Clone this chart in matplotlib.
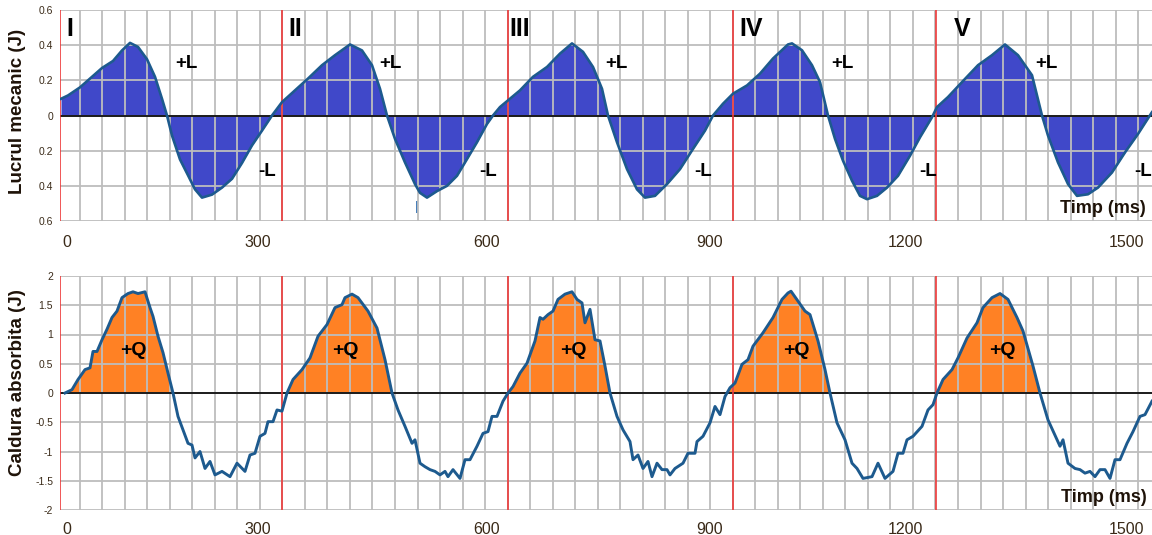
import matplotlib
matplotlib.use('Agg')
import matplotlib.pyplot as plt
import numpy as np
from matplotlib.ticker import FixedLocator

plt.rcParams['font.family'] = ['Liberation Sans', 'DejaVu Sans']

# ---------------- data (x = position along the sample axis) ----------------
work_x = [1, 8, 20, 32, 42, 53, 62, 70, 78, 87, 95, 102, 107, 112, 120, 128, 135, 142,
          152, 162, 172, 182, 192, 202, 212, 222, 235, 248, 262, 275, 290, 302, 312, 320,
          327, 335, 345, 355, 360, 367, 377, 387, 397, 407, 417, 427, 433, 440, 448, 460,
          473, 487, 500, 512, 523, 533, 542, 548, 557, 567, 577, 585, 595, 607, 620, 633,
          645, 653, 663, 673, 687, 700, 713, 728, 732, 742, 752, 760, 768, 775, 783, 792,
          800, 807, 817, 827, 838, 850, 860, 872, 877, 888, 902, 918, 932, 945, 958, 972,
          982, 988, 998, 1008, 1017, 1028, 1038, 1052, 1065, 1078, 1092]
work_y = [0.095, 0.114, 0.16, 0.22, 0.27, 0.31, 0.37, 0.413, 0.39, 0.32, 0.22, 0.095, 0.0, -0.114, -0.25, -0.34, -0.42, -0.467,
          -0.45, -0.41, -0.36, -0.27, -0.17, -0.086, 0.0, 0.076, 0.143, 0.21, 0.286, 0.343, 0.404, 0.37, 0.286, 0.152,
          0.0, -0.133, -0.267, -0.39, -0.44, -0.467, -0.43, -0.40, -0.343, -0.248, -0.152, -0.048, 0.0, 0.048, 0.086, 0.143,
          0.22, 0.276, 0.352, 0.41, 0.362, 0.276, 0.152, 0.0, -0.152, -0.305, -0.42, -0.467, -0.457, -0.39, -0.305, -0.19,
          -0.086, 0.0, 0.067, 0.124, 0.171, 0.238, 0.324, 0.404, 0.41, 0.371, 0.286, 0.19, 0.0, -0.133, -0.257, -0.371,
          -0.457, -0.476, -0.457, -0.41, -0.343, -0.229, -0.124, -0.01, 0.048, 0.105, 0.19, 0.286, 0.343, 0.404, 0.343, 0.229,
          0.0, -0.114, -0.267, -0.39, -0.457, -0.448, -0.41, -0.324, -0.21, -0.105, 0.019]

heat_x = [5, 12, 18, 25, 30, 33, 37, 42, 47, 52, 57, 62, 68, 73, 78, 85, 90, 93, 98, 103,
          108, 113, 118, 123, 128, 132, 135, 140, 145, 150, 155, 162, 170, 177, 185, 190, 195, 200, 205, 208,
          213, 217, 222, 227, 233, 242, 250, 258, 267, 275, 282, 285, 292, 298, 308, 317, 325, 332, 338, 345,
          352, 355, 360, 365, 370, 375, 380, 385, 388, 393, 400, 405, 410, 417, 423, 428, 432, 437, 443, 448,
          453, 460, 467, 475, 480, 483, 488, 493, 498, 505, 512, 517, 522, 525, 530, 535, 540, 545, 550, 557,
          563, 570, 573, 578, 583, 588, 592, 597, 602, 607, 610, 615, 623, 628, 635, 637, 643, 650, 655, 660,
          665, 670, 675, 682, 688, 693, 703, 713, 722, 728, 731, 738, 745, 750, 758, 765, 770, 777, 785, 792,
          797, 803, 812, 818, 825, 833, 838, 843, 847, 853, 862, 868, 873, 877, 883, 892, 898, 907, 917, 923,
          932, 940, 948, 957, 963, 973, 980, 988, 997, 1000, 1003, 1008, 1015, 1020, 1025, 1030, 1035, 1040, 1045, 1050,
          1055, 1060, 1067, 1073, 1080, 1085, 1092]
heat_y = [0.0, 0.057, 0.23, 0.40, 0.43, 0.71, 0.71, 0.91, 1.09, 1.29, 1.40, 1.63, 1.70, 1.73, 1.70, 1.73, 1.46, 1.31, 0.97, 0.69,
          0.34, 0.0, -0.40, -0.63, -0.86, -0.89, -1.11, -1.00, -1.29, -1.17, -1.40, -1.34, -1.43, -1.20, -1.34, -1.06, -1.03, -0.74, -0.69, -0.49,
          -0.49, -0.29, -0.31, 0.0, 0.23, 0.40, 0.60, 0.97, 1.17, 1.46, 1.51, 1.63, 1.69, 1.63, 1.40, 1.11, 0.57, 0.0, -0.29, -0.57,
          -0.86, -0.80, -1.20, -1.26, -1.31, -1.34, -1.40, -1.34, -1.43, -1.31, -1.46, -1.14, -1.14, -0.91, -0.69, -0.66, -0.40, -0.40, -0.14, 0.0,
          0.11, 0.34, 0.51, 0.89, 1.29, 1.26, 1.34, 1.40, 1.60, 1.69, 1.73, 1.60, 1.54, 1.20, 1.43, 0.91, 0.89, 0.46, 0.0, -0.40,
          -0.63, -0.83, -1.14, -1.06, -1.29, -1.17, -1.43, -1.20, -1.31, -1.31, -1.40, -1.29, -1.20, -1.03, -1.03, -0.83, -0.74, -0.51, -0.23, -0.37,
          -0.06, 0.09, 0.17, 0.49, 0.57, 0.80, 1.03, 1.29, 1.60, 1.71, 1.74, 1.57, 1.40, 1.34, 0.89, 0.40, 0.0, -0.51, -0.80, -1.20,
          -1.29, -1.46, -1.43, -1.20, -1.46, -1.34, -1.03, -1.03, -0.80, -0.74, -0.57, -0.29, -0.20, 0.0, 0.23, 0.40, 0.60, 0.94, 1.20, 1.46,
          1.63, 1.70, 1.60, 1.29, 1.06, 0.46, 0.0, -0.46, -0.80, -0.91, -0.80, -1.20, -1.29, -1.31, -1.37, -1.34, -1.43, -1.31, -1.31, -1.46,
          -1.14, -1.14, -0.86, -0.66, -0.40, -0.37, -0.14]

cycle_starts = [0, 222, 448, 673, 876]
cycle_names = ['I', 'II', 'III', 'IV', 'V']
time_ticks = [7, 198, 427, 650, 845, 1067]
time_labels = ['0', '300', '600', '900', '1200', '1500']
work_yticks = [0.6, 0.4, 0.2, 0.0, -0.2, -0.4, -0.6]
work_ylabels = ['0.6', '0.4', '0.2', '0', '0.2', '0.4', '0.6']
heat_yticks = [2, 1.5, 1, 0.5, 0, -0.5, -1, -1.5, -2]
heat_ylabels = ['2', '1.5', '1', '0.5', '0', '-0.5', '-1', '-1.5', '-2']

assert len(work_x) == len(work_y)
assert len(heat_x) == len(heat_y)

# ---------------- styling ----------------
W, H = 1152, 535
fig = plt.figure(figsize=(W / 100, H / 100), dpi=100)
XMAX = 1092

def fx(px):
    return px / W

def fy(py):
    return 1 - py / H

ax1 = fig.add_axes([fx(60), fy(221), fx(1092), (221 - 10) / H])
ax2 = fig.add_axes([fx(60), fy(510), fx(1092), (510 - 276) / H])

grid_x = np.arange(19.7, XMAX, 22.52)
tick_color = '#3a2a18'
label_color = '#1e1208'
line_color = '#1d5a8e'
red = '#ee3a3a'

for ax in (ax1, ax2):
    ax.set_xlim(0, XMAX)
    for s in ax.spines.values():
        s.set_visible(False)
    ax.xaxis.set_minor_locator(FixedLocator(grid_x))
    ax.grid(which='minor', axis='x', color='#bdbdbd', lw=1.3)
    ax.grid(which='major', axis='y', color='#bdbdbd', lw=1.3)
    ax.set_axisbelow('line')
    ax.set_xticks(time_ticks, time_labels)
    ax.tick_params(axis='x', which='both', length=0, labelsize=11.5, colors=tick_color)
    ax.tick_params(axis='y', length=0, labelsize=7.5, colors=tick_color, pad=5)
    ax.axhline(0, color='black', lw=1.2, zorder=2.6)
    for c in cycle_starts:
        ax.axvline(c, color=red, lw=1.2, zorder=2.7)

# top: mechanical work
ax1.set_ylim(-0.6, 0.6)
ax1.set_yticks(work_yticks, work_ylabels)
ax1.tick_params(axis='x', pad=10)
ax1.fill_between(work_x, work_y, 0, color='#4048c9', lw=0, zorder=1)
ax1.plot(work_x, work_y, color=line_color, lw=1.9, zorder=3, solid_joinstyle='round')
for c, name in zip([10, 235, 460, 691, 902], cycle_names):
    ax1.text(c, 0.49, name, fontsize=18, fontweight='bold', ha='center', va='center', color='black')
for c in [126, 330, 556, 782, 986]:
    ax1.text(c, 0.293, '+L', fontsize=13.5, fontweight='bold', ha='center', va='center', color='black')
for c in [207, 428, 643, 868, 1083]:
    ax1.text(c, -0.316, '-L', fontsize=13.5, fontweight='bold', ha='center', va='center', color='black')
ax1.text(356, -0.52, '|', fontsize=9, color='#2f6db0', ha='center', va='center')
ax1.text(1086, -0.527, 'Timp (ms)', fontsize=13, fontweight='bold', ha='right', va='center', color=label_color)

# bottom: absorbed heat
hx = np.array(heat_x, dtype=float)
hy = np.array(heat_y, dtype=float)
ax2.set_ylim(-2, 2)
ax2.set_yticks(heat_yticks, heat_ylabels)
ax2.tick_params(axis='x', pad=8.5)
ax2.fill_between(hx, hy, 0, where=hy >= 0, interpolate=True, color='#ff8124', lw=0, zorder=1)
ax2.plot(hx, hy, color=line_color, lw=2.1, zorder=3, solid_joinstyle='round')
for c in [73, 285, 513, 736, 942]:
    ax2.text(c, 0.735, '+Q', fontsize=14, fontweight='bold', ha='center', va='center', color='black')
ax2.text(1087, -1.79, 'Timp (ms)', fontsize=13, fontweight='bold', ha='right', va='center', color=label_color)

fig.text(fx(18), fy(111.5), 'Lucrul mecanic (J)', rotation=90, fontsize=13.5, fontweight='bold',
         ha='center', va='center', color=label_color)
fig.text(fx(18), fy(382.5), 'Caldura absorbita (J)', rotation=90, fontsize=13.5, fontweight='bold',
         ha='center', va='center', color=label_color)

fig.savefig('out.png', dpi=100)
